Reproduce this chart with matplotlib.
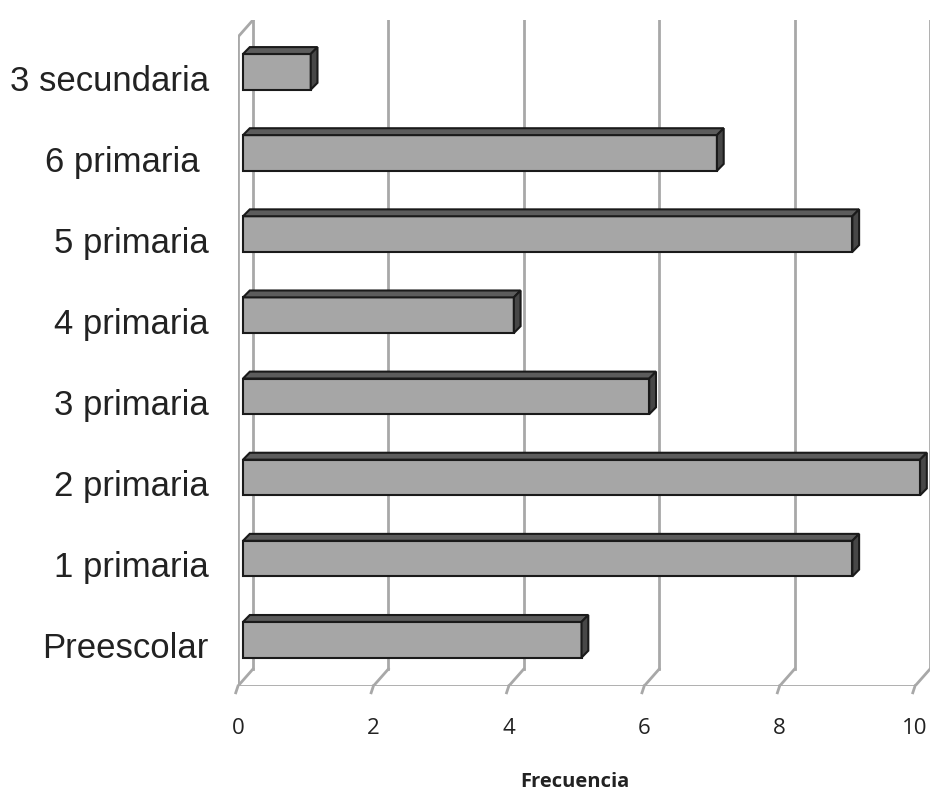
import numpy as np
import matplotlib.pyplot as plt
from matplotlib.patches import Polygon

categorias = ['Preescolar', '1 primaria', '2 primaria', '3 primaria',
              '4 primaria', '5 primaria', '6 primaria ', '3 secundaria']
frecuencia = [5, 9, 10, 6, 4, 9, 7, 1]
xticks = [0, 2, 4, 6, 8, 10]

W, H = 932, 795
fig = plt.figure(figsize=(W / 100, H / 100), dpi=100)
# axes placed in pixel terms: x from 238 to 930, y from 20 to 686
ax = fig.add_axes([238 / W, 1 - 686 / H, (930 - 238) / W, (686 - 20) / H])

# 3d offsets (data units)
ox, oy = 0.221, 0.209      # wall depth
fx, fy = 0.074, 0.07       # bar front plane
dx, dy = 0.10, 0.085       # bar depth
h = 0.44
xmax = 10
ax.set_xlim(0, xmax + ox)
ax.set_ylim(-0.5, 7.5 + oy)
for s in ax.spines.values():
    s.set_visible(False)

gcol = '#a8a8a8'
lw = 2.0
# back wall gridlines
for v in xticks:
    ax.plot([v + ox, v + ox], [-0.5 + oy, 7.5 + oy], color=gcol, lw=lw, zorder=1)
    ax.plot([v, v + ox], [-0.5, -0.5 + oy], color=gcol, lw=lw, zorder=1)
    ax.plot([v, v - ox * 0.15], [-0.5, -0.5 - oy * 0.4], color=gcol, lw=lw, zorder=1, clip_on=False)
# left wall front edge + floor front edge
ax.plot([0, 0], [-0.5, 7.5], color=gcol, lw=lw, zorder=1)
ax.plot([0, ox], [7.5, 7.5 + oy], color=gcol, lw=lw, zorder=1)
ax.plot([0, xmax], [-0.5, -0.5], color=gcol, lw=lw, zorder=1)

y = np.arange(len(categorias))
yb = y + fy
ax.barh(yb, frecuencia, left=fx, height=h, color='#a6a6a6',
        edgecolor='#1a1a1a', linewidth=1.5, zorder=3)
for yi, v in zip(yb, frecuencia):
    top = [(fx, yi + h / 2), (fx + v, yi + h / 2),
           (fx + v + dx, yi + h / 2 + dy), (fx + dx, yi + h / 2 + dy)]
    side = [(fx + v, yi - h / 2), (fx + v, yi + h / 2),
            (fx + v + dx, yi + h / 2 + dy), (fx + v + dx, yi - h / 2 + dy)]
    ax.add_patch(Polygon(top, closed=True, fc='#5c5c5c', ec='#1a1a1a', lw=1.5, zorder=4))
    ax.add_patch(Polygon(side, closed=True, fc='#474747', ec='#1a1a1a', lw=1.5, zorder=4))

ax.set_yticks(y)
ax.set_yticklabels(categorias, fontsize=25, family='Liberation Sans', color='#222222')
ax.set_xticks(xticks)
ax.set_xticklabels([str(v) for v in xticks], fontsize=16, family='Open Sans', color='#222222')
ax.tick_params(axis='y', length=0, pad=21)
ax.tick_params(axis='x', length=0, pad=23)

fig.text(575 / W, 1 - 782 / H, 'Frecuencia', ha='center', va='center',
         fontsize=14.5, fontweight='bold', family='Open Sans', color='#222222')

fig.savefig('out.png', dpi=100)
